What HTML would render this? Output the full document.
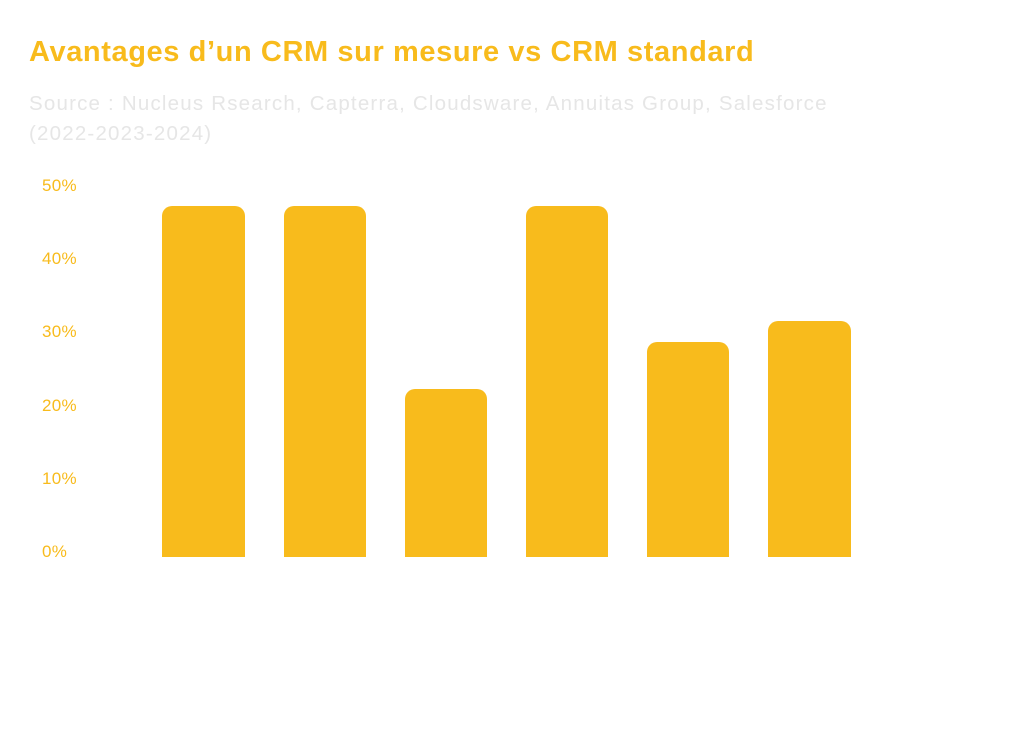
<!DOCTYPE html>
<html><head><style>
body{margin:0;width:1024px;height:736px;background:#fff;overflow:hidden;font-family:"Liberation Sans",sans-serif;}
.t{position:absolute;left:29px;top:36px;font-size:29px;font-weight:bold;color:#f8bb1c;letter-spacing:0.6px;}
.s{position:absolute;left:29px;top:89px;font-size:20.5px;line-height:30px;color:#e6e6e6;letter-spacing:1.2px;}
.y{position:absolute;left:42px;font-size:17px;color:#f8bb1c;letter-spacing:0.3px;}
.b{position:absolute;background:#f8bb1c;border-radius:10px 10px 0 0;bottom:179px;}
</style></head><body>
<div class="t">Avantages d’un CRM sur mesure vs CRM standard</div>
<div class="s">Source : Nucleus Rsearch, Capterra, Cloudsware, Annuitas Group, Salesforce<br>(2022-2023-2024)</div>
<div class="y" style="top:176px">50%</div>
<div class="y" style="top:249px">40%</div>
<div class="y" style="top:322px">30%</div>
<div class="y" style="top:396px">20%</div>
<div class="y" style="top:469px">10%</div>
<div class="y" style="top:542px">0%</div>
<div class="b" style="left:162px;width:83px;top:206px"></div>
<div class="b" style="left:284px;width:82px;top:206px"></div>
<div class="b" style="left:405px;width:82px;top:389px"></div>
<div class="b" style="left:526px;width:82px;top:206px"></div>
<div class="b" style="left:647px;width:82px;top:342px"></div>
<div class="b" style="left:768px;width:83px;top:321px"></div>
</body></html>
